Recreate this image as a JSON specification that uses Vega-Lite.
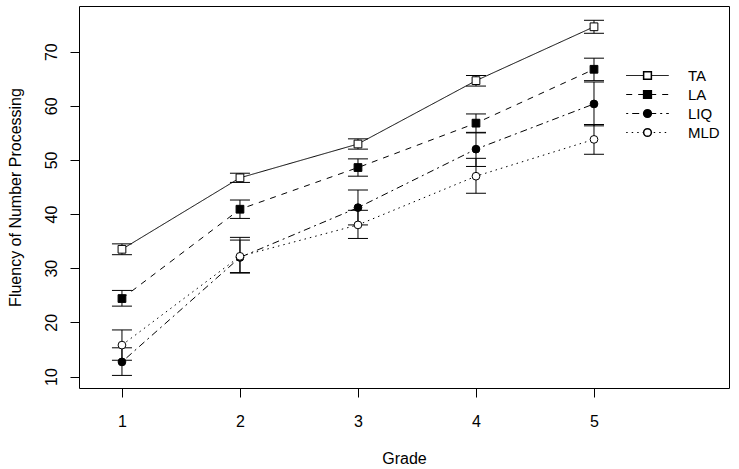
{
  "$schema": "https://vega.github.io/schema/vega-lite/v6.json",
  "width": 650,
  "height": 382,
  "autosize": {"type": "none"},
  "padding": {"left": 79, "top": 6, "right": 10, "bottom": 81},
  "background": "white",
  "config": {
    "view": {"stroke": "black", "strokeWidth": 1},
    "font": "Liberation Sans",
    "axis": {
      "grid": false, "domain": false, "tickColor": "black", "tickSize": 9, "tickWidth": 1,
      "labelColor": "black", "labelFontSize": 16, "labelFont": "Liberation Sans",
      "titleFontSize": 16, "titleFontWeight": "normal", "titleColor": "black", "titleFont": "Liberation Sans"
    },
    "axisLeft": {"labelAngle": 270, "labelAlign": "center", "labelBaseline": "bottom", "labelPadding": 11, "titleX": -59, "titleY": 191, "titleAngle": 270, "titleAlign": "center", "titleBaseline": "alphabetic"},
    "legend": {"labelFont": "Liberation Sans", "labelFontSize": 15, "labelColor": "black"}
  },
  "data": {
    "values": [
      {"series": "TA", "grade": 1, "mean": 33.5, "lo": 32.5, "hi": 34.5},
      {"series": "TA", "grade": 2, "mean": 46.7, "lo": 45.85, "hi": 47.55},
      {"series": "TA", "grade": 3, "mean": 52.95, "lo": 52.0, "hi": 53.9},
      {"series": "TA", "grade": 4, "mean": 64.65, "lo": 63.65, "hi": 65.6},
      {"series": "TA", "grade": 5, "mean": 74.6, "lo": 73.4, "hi": 75.8},
      {"series": "LA", "grade": 1, "mean": 24.4, "lo": 23.0, "hi": 25.9},
      {"series": "LA", "grade": 2, "mean": 40.9, "lo": 39.2, "hi": 42.6},
      {"series": "LA", "grade": 3, "mean": 48.6, "lo": 47.0, "hi": 50.2},
      {"series": "LA", "grade": 4, "mean": 56.8, "lo": 55.0, "hi": 58.5},
      {"series": "LA", "grade": 5, "mean": 66.75, "lo": 64.65, "hi": 68.8},
      {"series": "LIQ", "grade": 1, "mean": 12.7, "lo": 10.2, "hi": 15.3},
      {"series": "LIQ", "grade": 2, "mean": 32.0, "lo": 29.1, "hi": 35.2},
      {"series": "LIQ", "grade": 3, "mean": 41.2, "lo": 38.0, "hi": 44.45},
      {"series": "LIQ", "grade": 4, "mean": 52.0, "lo": 48.8, "hi": 55.1},
      {"series": "LIQ", "grade": 5, "mean": 60.35, "lo": 56.3, "hi": 64.4},
      {"series": "MLD", "grade": 1, "mean": 15.8, "lo": 13.0, "hi": 18.6},
      {"series": "MLD", "grade": 2, "mean": 32.2, "lo": 29.2, "hi": 35.7},
      {"series": "MLD", "grade": 3, "mean": 38.0, "lo": 35.5, "hi": 40.7},
      {"series": "MLD", "grade": 4, "mean": 47.0, "lo": 43.85, "hi": 50.3},
      {"series": "MLD", "grade": 5, "mean": 53.8, "lo": 51.05, "hi": 56.55}
    ]
  },
  "encoding": {
    "x": {
      "field": "grade", "type": "quantitative",
      "scale": {"domain": [0.636, 6.144], "nice": false, "zero": false},
      "axis": {"values": [1, 2, 3, 4, 5], "format": "d", "title": "Grade", "labelPadding": 16, "labelBaseline": "top", "titleY": 75, "titleBaseline": "alphabetic"}
    }
  },
  "layer": [
    {
      "mark": {"type": "rule", "color": "black", "strokeWidth": 1},
      "encoding": {
        "y": {
          "field": "lo", "type": "quantitative",
          "scale": {"domain": [7.876, 78.44], "nice": false, "zero": false},
          "axis": {"values": [10, 20, 30, 40, 50, 60, 70], "title": "Fluency of Number Processing"}
        },
        "y2": {"field": "hi"}
      }
    },
    {
      "mark": {"type": "rule", "color": "black", "strokeWidth": 1, "xOffset": -10, "x2Offset": 10},
      "encoding": {
        "x2": {"field": "grade"},
        "y": {"field": "lo", "type": "quantitative", "scale": {"domain": [7.876, 78.44], "nice": false, "zero": false}, "axis": {"values": [10, 20, 30, 40, 50, 60, 70], "title": "Fluency of Number Processing"}}
      }
    },
    {
      "mark": {"type": "rule", "color": "black", "strokeWidth": 1, "xOffset": -10, "x2Offset": 10},
      "encoding": {
        "x2": {"field": "grade"},
        "y": {"field": "hi", "type": "quantitative", "scale": {"domain": [7.876, 78.44], "nice": false, "zero": false}, "axis": {"values": [10, 20, 30, 40, 50, 60, 70], "title": "Fluency of Number Processing"}}
      }
    },
    {
      "mark": {"type": "line", "color": "black", "strokeWidth": 1},
      "encoding": {
        "y": {"field": "mean", "type": "quantitative", "scale": {"domain": [7.876, 78.44], "nice": false, "zero": false}, "axis": {"values": [10, 20, 30, 40, 50, 60, 70], "title": "Fluency of Number Processing"}},
        "strokeDash": {
          "field": "series", "type": "nominal", "sort": ["TA", "LA", "LIQ", "MLD"],
          "scale": {"range": [[1, 0], [6, 6], [2, 4, 7, 4], [1.5, 4]]},
          "legend": {"orient": "none", "legendX": 561, "legendY": 62, "title": null, "symbolType": "M-5.5,0H5.5", "symbolSize": 60, "symbolStrokeColor": "black", "symbolStrokeWidth": 1, "labelOffset": 33, "rowPadding": 3, "padding": 0}
        }
      }
    },
    {
      "mark": {"type": "point", "filled": true, "stroke": "black", "strokeWidth": 1, "size": 60, "opacity": 1},
      "encoding": {
        "y": {"field": "mean", "type": "quantitative", "scale": {"domain": [7.876, 78.44], "nice": false, "zero": false}, "axis": {"values": [10, 20, 30, 40, 50, 60, 70], "title": "Fluency of Number Processing"}},
        "shape": {
          "field": "series", "type": "nominal",
          "scale": {"domain": ["TA", "LA", "LIQ", "MLD"], "range": ["square", "square", "circle", "circle"]},
          "legend": {"orient": "none", "legendX": 561, "legendY": 62, "title": null, "symbolSize": 60, "labelOffset": 33, "labelOpacity": 0, "rowPadding": 3, "padding": 0, "encode": {"symbols": {"update": {"stroke": {"value": "black"}, "strokeWidth": {"value": 1}}}}}
        },
        "fill": {
          "field": "series", "type": "nominal",
          "scale": {"domain": ["TA", "LA", "LIQ", "MLD"], "range": ["white", "black", "black", "white"]},
          "legend": {"orient": "none", "legendX": 561, "legendY": 62, "title": null, "symbolSize": 60, "labelOffset": 33, "labelOpacity": 0, "rowPadding": 3, "padding": 0, "encode": {"symbols": {"update": {"stroke": {"value": "black"}, "strokeWidth": {"value": 1}}}}}
        }
      }
    }
  ]
}
